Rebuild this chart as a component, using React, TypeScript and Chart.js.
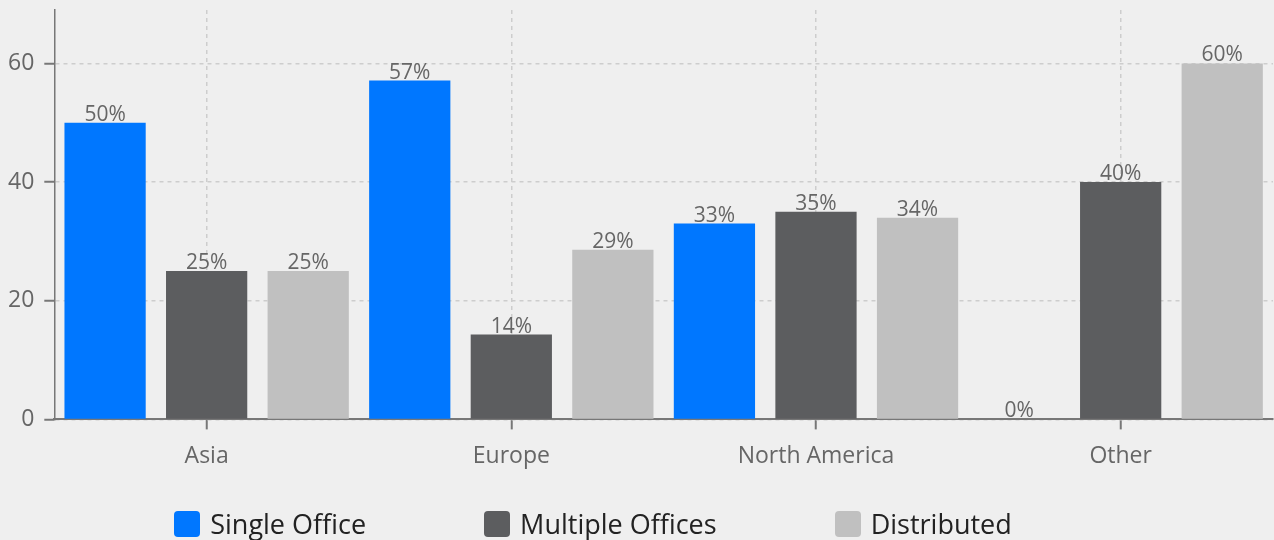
import React, { useEffect, useRef } from "react";
import { Chart, registerables } from "chart.js";

Chart.register(...registerables);

const categories = ["Asia", "Europe", "North America", "Other"];
const singleOffice = [50, 57.1, 33, 0];
const multipleOffices = [25, 14.3, 35, 40];
const distributed = [25, 28.6, 34, 60];
const seriesNames = ["Single Office", "Multiple Offices", "Distributed"];
const seriesColors = ["#0077ff", "#5c5d5f", "#c0c0c0"];
const yTicks = [0, 20, 40, 60];

const FONT = "'Open Sans', sans-serif";

const valueLabels = {
  id: "valueLabels",
  afterDatasetsDraw(chart: any) {
    const ctx = chart.ctx;
    ctx.save();
    ctx.font = `21px ${FONT}`;
    ctx.fillStyle = "#666666";
    ctx.textAlign = "center";
    ctx.textBaseline = "alphabetic";
    chart.data.datasets.forEach((ds: any, di: number) => {
      const meta = chart.getDatasetMeta(di);
      meta.data.forEach((el: any, i: number) => {
        const v = ds.data[i];
        ctx.fillText(`${Math.round(v)}%`, el.x, el.y - 2);
      });
    });
    ctx.restore();
  },
};

export default function App() {
  const canvasRef = useRef<HTMLCanvasElement | null>(null);

  useEffect(() => {
    if (!canvasRef.current) return;
    const data = [singleOffice, multipleOffices, distributed];
    const chart = new Chart(canvasRef.current, {
      type: "bar",
      data: {
        labels: categories,
        datasets: data.map((d, i) => ({
          label: seriesNames[i],
          data: d,
          backgroundColor: seriesColors[i],
          borderWidth: 0,
          categoryPercentage: 1,
          barPercentage: 0.8,
        })),
      },
      options: {
        animation: false,
        responsive: false,
        maintainAspectRatio: false,
        layout: { padding: { left: -2, right: 1, top: 10, bottom: 57 } },
        plugins: {
          legend: { display: false },
          tooltip: { enabled: false },
        },
        scales: {
          x: {
            offset: true,
            grid: {
              offset: false,
              color: "#cdcdcd",
              lineWidth: 1.5,
              tickColor: "#777777",
              tickWidth: 2,
              tickLength: 10,
              tickBorderDash: [],
            },
            border: { color: "#777777", width: 2, dash: [4, 4] },
            ticks: {
              color: "#666666",
              font: { family: FONT, size: 23 },
              padding: 13,
            },
          },
          y: {
            min: 0,
            max: 69,
            afterBuildTicks: (scale: any) => {
              scale.ticks = yTicks.map((v) => ({ value: v }));
            },
            afterFit: (scale: any) => {
              scale.paddingTop = 0;
              scale.paddingBottom = 0;
            },
            grid: {
              color: "#cdcdcd",
              lineWidth: 1.5,
              tickColor: "#777777",
              tickWidth: 2,
              tickLength: 10,
              tickBorderDash: [],
            },
            border: { color: "#777777", width: 1.5, dash: [4, 4] },
            ticks: {
              color: "#666666",
              font: { family: FONT, size: 23 },
              padding: 10,
            },
          },
        },
      },
      plugins: [valueLabels],
    });
    return () => chart.destroy();
  }, []);

  return (
    <div
      style={{
        position: "fixed",
        left: 0,
        top: 0,
        width: 1274,
        height: 540,
        background: "#efefef",
        overflow: "hidden",
      }}
    >
      <canvas ref={canvasRef} width={1274} height={540} style={{ display: "block" }} />
      <div
        style={{
          position: "absolute",
          left: 0,
          top: 509,
          width: 1186,
          height: 30,
          display: "flex",
          justifyContent: "center",
          alignItems: "center",
          gap: 118,
          fontFamily: FONT,
          fontSize: 27,
          color: "#222222",
        }}
      >
        {seriesNames.map((n, i) => (
          <div key={n} style={{ display: "flex", alignItems: "center", gap: 10 }}>
            <span
              style={{
                width: 26,
                height: 26,
                borderRadius: 4,
                background: seriesColors[i],
                display: "inline-block",
                flex: "none",
              }}
            />
            <span style={{ lineHeight: "30px", whiteSpace: "nowrap" }}>{n}</span>
          </div>
        ))}
      </div>
    </div>
  );
}
